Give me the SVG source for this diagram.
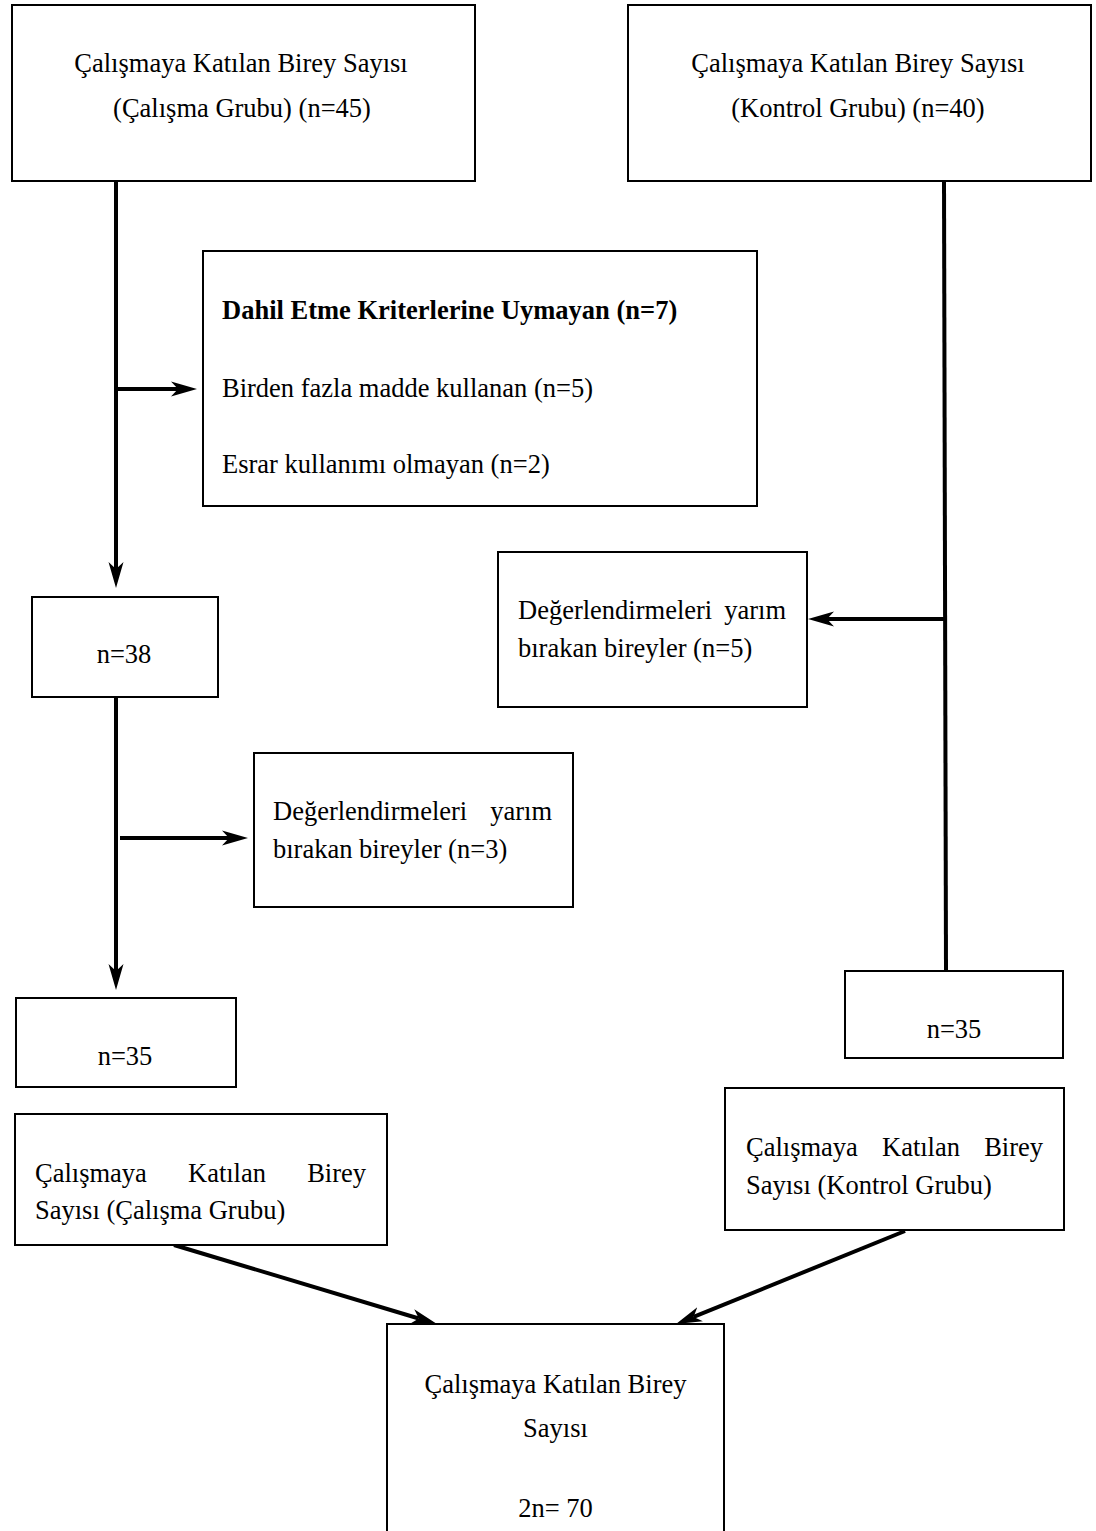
<svg xmlns="http://www.w3.org/2000/svg" width="1096" height="1531" viewBox="0 0 1096 1531">
<style>
.box{fill:#fff;stroke:#000;stroke-width:2}
text{font-family:"Liberation Serif","Times New Roman",serif;font-size:26.5px;fill:#000}
.b{font-weight:bold}
.m{text-anchor:middle}
.e{text-anchor:end}
.c{fill:none;stroke:#000;stroke-width:4}
.a{marker-end:url(#arr)}
</style>
<defs>
<marker id="arr" markerUnits="userSpaceOnUse" viewBox="0 -8 26 16" markerWidth="26" markerHeight="16" refX="7" refY="0" orient="auto">
<path d="M26,0 L0,-7.5 L7,0 L0,7.5 Z" fill="#000"/>
</marker>
</defs>
<rect width="1096" height="1531" fill="#fff"/>
<g id="connectors">
<line class="c a" x1="116" y1="181" x2="116" y2="569"/>
<line class="c a" x1="116" y1="389" x2="178" y2="389"/>
<line class="c a" x1="116" y1="697" x2="116" y2="971"/>
<line class="c a" x1="120" y1="838" x2="229" y2="838"/>
<line class="c" x1="944" y1="181" x2="946" y2="971"/>
<line class="c a" x1="945" y1="619" x2="827" y2="619"/>
<line class="c a" x1="174" y1="1245" x2="418.8" y2="1318.5"/>
<line class="c a" x1="905" y1="1231" x2="693.6" y2="1316.9"/>
</g>
<g id="n1">
<rect class="box" x="12" y="5" width="463" height="176"/>
<text class="m" x="241" y="72">Çalışmaya Katılan Birey Sayısı</text>
<text class="m" x="242" y="117">(Çalışma Grubu) (n=45)</text>
</g>
<g id="n2">
<rect class="box" x="628" y="5" width="463" height="176"/>
<text class="m" x="858" y="72">Çalışmaya Katılan Birey Sayısı</text>
<text class="m" x="858" y="117">(Kontrol Grubu) (n=40)</text>
</g>
<g id="n3">
<rect class="box" x="203" y="251" width="554" height="255"/>
<text class="b" x="222" y="319">Dahil Etme Kriterlerine Uymayan (n=7)</text>
<text x="222" y="397">Birden fazla madde kullanan (n=5)</text>
<text x="222" y="473">Esrar kullanımı olmayan (n=2)</text>
</g>
<g id="n4">
<rect class="box" x="32" y="597" width="186" height="100"/>
<text class="m" x="124" y="663">n=38</text>
</g>
<g id="n5">
<rect class="box" x="498" y="552" width="309" height="155"/>
<text x="518" y="619">Değerlendirmeleri</text>
<text class="e" x="786" y="619">yarım</text>
<text x="518" y="657">bırakan bireyler (n=5)</text>
</g>
<g id="n6">
<rect class="box" x="254" y="753" width="319" height="154"/>
<text x="273" y="820">Değerlendirmeleri</text>
<text class="e" x="552" y="820">yarım</text>
<text x="273" y="858">bırakan bireyler (n=3)</text>
</g>
<g id="n7">
<rect class="box" x="16" y="998" width="220" height="89"/>
<text class="m" x="125" y="1065">n=35</text>
</g>
<g id="n8">
<rect class="box" x="845" y="971" width="218" height="87"/>
<text class="m" x="954" y="1038">n=35</text>
</g>
<g id="n9">
<rect class="box" x="15" y="1114" width="372" height="131"/>
<text x="35" y="1182">Çalışmaya</text>
<text class="m" x="227" y="1182">Katılan</text>
<text class="e" x="366" y="1182">Birey</text>
<text x="35" y="1219">Sayısı (Çalışma Grubu)</text>
</g>
<g id="n10">
<rect class="box" x="725" y="1088" width="339" height="142"/>
<text x="746" y="1156">Çalışmaya</text>
<text class="m" x="921" y="1156">Katılan</text>
<text class="e" x="1043" y="1156">Birey</text>
<text x="746" y="1194">Sayısı (Kontrol Grubu)</text>
</g>
<g id="n11">
<rect class="box" x="387" y="1324" width="337" height="210"/>
<text class="m" x="555.5" y="1393">Çalışmaya Katılan Birey</text>
<text class="m" x="555.5" y="1437">Sayısı</text>
<text class="m" x="555.5" y="1517">2n= 70</text>
</g>
</svg>
